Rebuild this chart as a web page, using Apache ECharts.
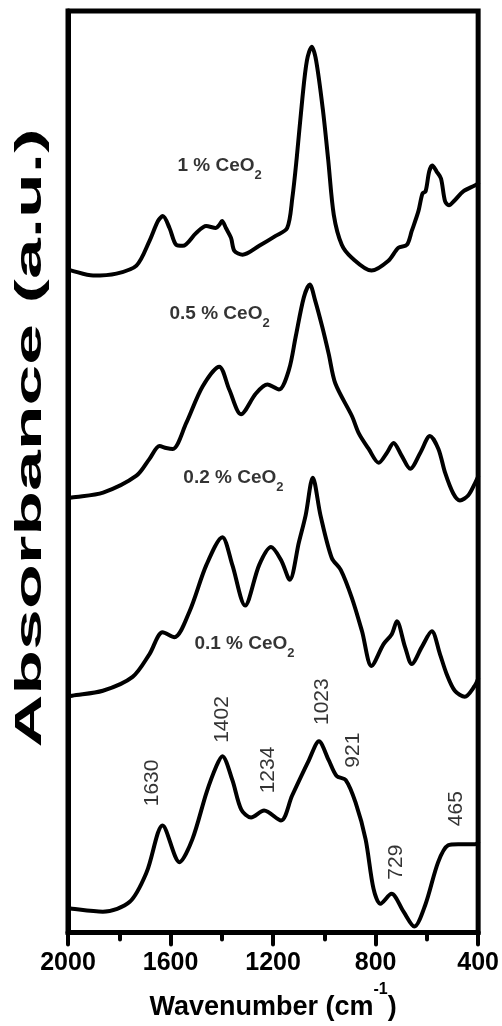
<!DOCTYPE html>
<html><head><meta charset="utf-8">
<script src="https://cdn.jsdelivr.net/npm/echarts/dist/echarts.min.js"></script>
<style>html,body{margin:0;padding:0;background:#fff}#c{width:502px;height:1026px}</style>
</head><body><div id="c"></div>
<script>
// FTIR spectra: [wavenumber (cm-1), absorbance (a.u., offset stacked)]
const ceo2_1 = [[2000,669],[1986,668],[1902,663],[1811,665],[1733,673],[1682,698],[1649,718],[1630,723],[1604,711],[1578,694],[1552,693],[1500,706],[1461,713],[1423,711],[1410,714],[1399,718],[1384,711],[1364,701],[1351,688],[1319,684],[1254,693],[1190,703],[1145,711],[1125,741],[1108,781],[1086,841],[1068,880],[1049,894],[1032,880],[1006,831],[985,780],[963,724],[932,694],[893,681],[816,668],[750,678],[711,691],[678,694],[659,708],[633,728],[617,746],[605,748],[591,768],[579,774],[562,768],[545,761],[529,738],[514,734],[491,739],[458,748],[413,754],[400,756]];
const ceo2_05 = [[2000,438],[1986,439],[1863,444],[1733,461],[1682,478],[1643,491],[1617,489],[1591,488],[1539,514],[1475,551],[1410,571],[1371,548],[1325,523],[1267,544],[1222,553],[1177,548],[1138,568],[1112,601],[1080,641],[1057,654],[1036,638],[1008,611],[983,584],[957,554],[892,521],[866,504],[827,488],[788,474],[756,484],[730,494],[698,481],[665,468],[626,484],[588,501],[555,488],[529,464],[497,443],[471,436],[439,441],[413,453],[400,460]];
const ceo2_02 = [[2000,238],[1984,239],[1864,244],[1748,258],[1682,281],[1631,303],[1585,298],[1526,324],[1460,371],[1398,399],[1359,371],[1309,330],[1254,371],[1208,389],[1169,376],[1135,356],[1099,394],[1073,421],[1045,459],[1015,421],[971,378],[936,366],[893,338],[853,304],[816,269],[769,291],[737,301],[717,314],[685,288],[659,271],[620,288],[581,304],[549,281],[523,261],[491,244],[452,238],[413,249],[400,256]];
const ceo2_01 = [[2000,25],[1984,24],[1864,21],[1759,31],[1693,61],[1631,108],[1565,71],[1515,94],[1460,141],[1421,168],[1398,178],[1359,154],[1324,124],[1286,116],[1235,123],[1169,113],[1126,138],[1060,174],[1021,193],[983,174],[952,158],[917,154],[878,131],[839,94],[808,44],[781,29],[738,39],[691,21],[649,6],[606,28],[556,71],[517,88],[478,89],[412,89],[400,91]];
const spectra = [ceo2_1, ceo2_05, ceo2_02, ceo2_01];
const sampleNames = ['1', '0.5', '0.2', '0.1'];
const sampleLabelPos = [[1573,774],[1604,624],[1550,459],[1507,291]];
const peakNames = ['1630','1402','1234','1023','921','729','465'];
const peakLabelPos = [[1670,151],[1398,215],[1219,164],[1010,233],[889,184],[718,71],[485,125]];
const xTicks = [2000,1600,1200,800,400];

const FONT = '"Liberation Sans", Arial, sans-serif';
const chart = echarts.init(document.getElementById('c'), null, {renderer:'canvas'});
const series = spectra.map(d => ({
  type:'line', data:d, smooth:0.3, showSymbol:false, silent:true,
  lineStyle:{color:'#000', width:4, join:'round', cap:'round'}
}));
series.push({
  type:'scatter', symbolSize:0, silent:true,
  data: sampleLabelPos.map((p,i)=>[p[0],p[1],sampleNames[i]]),
  label:{show:true, position:'right', distance:0,
    formatter: p => '{b|' + p.data[2] + ' % CeO}{s|2}',
    rich:{
      b:{fontFamily:FONT, fontWeight:'bold', fontSize:19, color:'#000', lineHeight:32},
      s:{fontFamily:FONT, fontWeight:'bold', fontSize:13, color:'#000', lineHeight:12, verticalAlign:'bottom'}
    }}
});
series.push({
  type:'scatter', symbolSize:0, silent:true,
  data: peakLabelPos.map((p,i)=>[p[0],p[1],peakNames[i]]),
  label:{show:true, position:'inside', rotate:90, formatter: p => p.data[2],
    fontFamily:FONT, fontSize:21, color:'#000'}
});
chart.setOption({
  animation:false,
  grid:{left:68, right:22, top:11, bottom:85, show:true, borderColor:'#000', borderWidth:5},
  xAxis:{
    type:'value', min:400, max:2000, interval:400, inverse:true,
    axisLine:{lineStyle:{color:'#000', width:5}},
    axisTick:{length:12, lineStyle:{color:'#000', width:4, cap:'round'}},
    minorTick:{show:true, splitNumber:2, length:7, lineStyle:{color:'#000', width:4, cap:'round'}},
    splitLine:{show:false}, minorSplitLine:{show:false},
    axisLabel:{margin:18, color:'#000', fontSize:25, fontWeight:'bold', fontFamily:FONT,
      formatter: v => xTicks.includes(v) ? String(v) : ''},
    name:'{a|Wavenumber (cm}{s|-1}{a|)}', nameLocation:'middle', nameGap:49,
    nameTextStyle:{rich:{
      a:{fontFamily:FONT, fontWeight:'bold', fontSize:27, color:'#000', lineHeight:52},
      s:{fontFamily:FONT, fontWeight:'bold', fontSize:16, color:'#000', lineHeight:16, verticalAlign:'top'}
    }}
  },
  yAxis:{
    type:'value', min:0, max:930,
    axisLine:{show:true, lineStyle:{color:'#000', width:5}},
    axisTick:{show:false}, axisLabel:{show:false}, splitLine:{show:false}
  },
  graphic:[{
    type:'text', x:31, y:438, rotation:Math.PI/2, scaleX:1.88, scaleY:0.95, silent:true,
    style:{text:'Absorbance (a.u.)', fontFamily:FONT, fontWeight:'bold', fontSize:39, fill:'#000',
      align:'center', verticalAlign:'middle', textAlign:'center', textVerticalAlign:'middle'}
  }],
  series: series
});
</script></body></html>
